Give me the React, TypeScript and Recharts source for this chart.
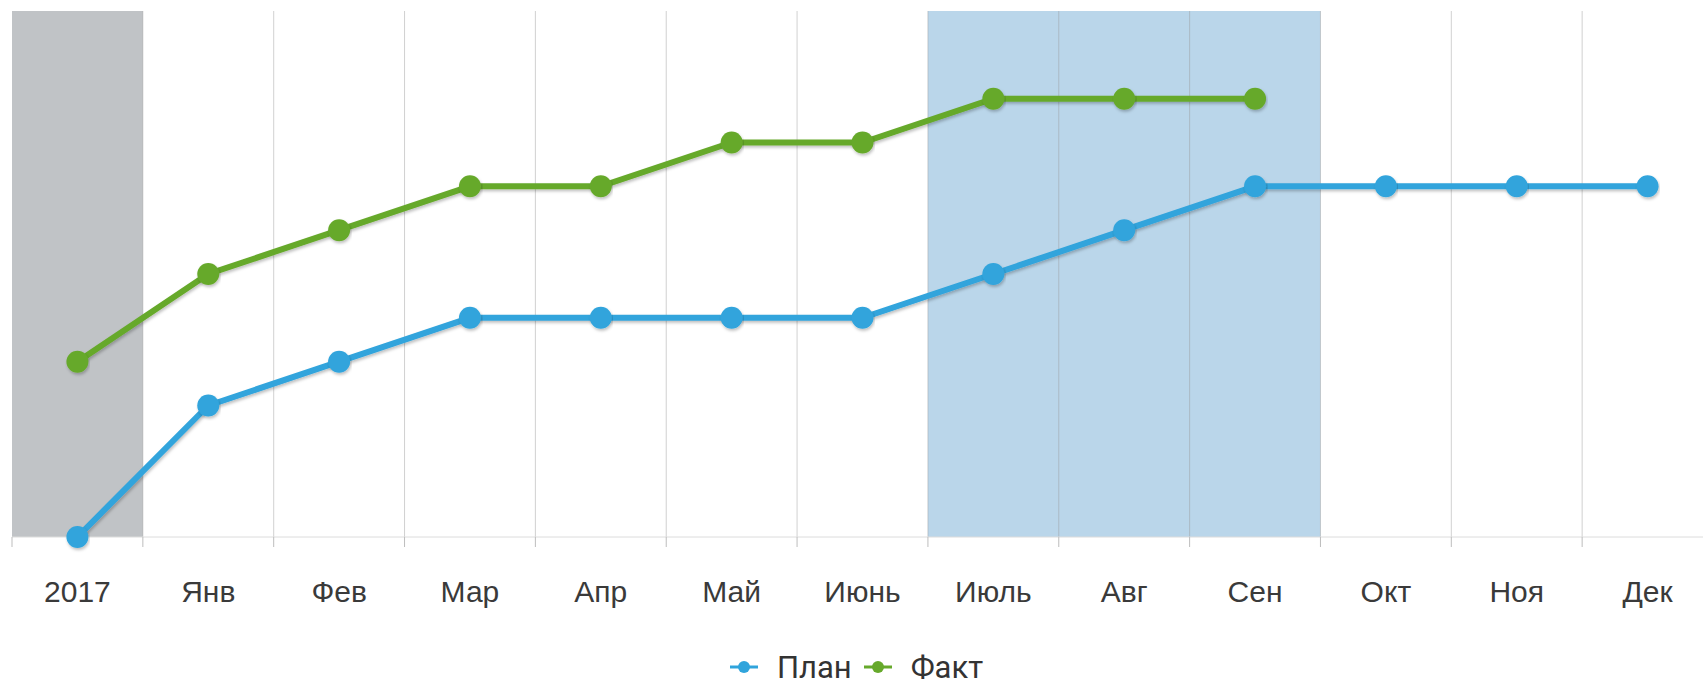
import { LineChart, Line, XAxis, YAxis, CartesianGrid, ReferenceArea, Legend } from "recharts";

const CATEGORIES = ["2017", "Янв", "Фев", "Мар", "Апр", "Май", "Июнь", "Июль", "Авг", "Сен", "Окт", "Ноя", "Дек"];
const PLAN = [0, 3, 4, 5, 5, 5, 5, 6, 7, 8, 8, 8, 8];
const FACT = [4, 6, 7, 8, 8, 9, 9, 10, 10, 10, null, null, null];

const SERIES = [
  { key: "plan", name: "План", color: "#30a4dc" },
  { key: "fact", name: "Факт", color: "#66a92b" },
];

const FONT = "'Liberation Sans', Arial, sans-serif";

const data = CATEGORIES.map((month, i) => ({ month, plan: PLAN[i], fact: FACT[i] }));

function AxisTick(props: any) {
  const { x, y, payload, index, visibleTicksCount } = props;
  const half = payload?.offset ?? 65.4;
  const last = index === visibleTicksCount - 1;
  return (
    <g>
      <line x1={x - half} y1={y} x2={x - half} y2={y + 10} stroke="#bdbdbd" />
      {last && <line x1={x + half} y1={y} x2={x + half} y2={y + 10} stroke="#bdbdbd" />}
      <text x={x} y={y + 65} textAnchor="middle" fill="#3a3a3a" fontSize={30} fontFamily={FONT}>
        {payload.value}
      </text>
    </g>
  );
}

function LegendContent() {
  return (
    <div
      style={{
        display: "flex",
        justifyContent: "center",
        alignItems: "center",
        boxSizing: "border-box",
        height: 40,
        paddingTop: 2,
        fontFamily: "Roboto, sans-serif",
        fontSize: 31,
        lineHeight: 1,
        color: "#333",
      }}
    >
      {SERIES.map((s) => (
        <span key={s.key} style={{ display: "flex", alignItems: "center", marginRight: 12 }}>
          <svg width={28} height={16} style={{ marginRight: 19 }}>
            <line x1={0} y1={8} x2={28} y2={8} stroke={s.color} strokeWidth={3} />
            <circle cx={14} cy={8} r={6} fill={s.color} />
          </svg>
          {s.name}
        </span>
      ))}
    </div>
  );
}

export default function App() {
  return (
    <div
      style={{
        position: "fixed",
        left: 0,
        top: 0,
        width: 1703,
        height: 686,
        overflow: "hidden",
        background: "#fff",
      }}
    >
      <LineChart width={1730} height={686} data={data} margin={{ top: 11, right: 17, left: 12, bottom: 0 }}>
        <defs>
          <filter id="lineShadow" x="-5%" y="-20%" width="110%" height="140%">
            <feDropShadow dx="1" dy="2" stdDeviation="1.5" floodColor="#000" floodOpacity="0.25" />
          </filter>
        </defs>
        <ReferenceArea x1="2017" x2="2017" fill="#c0c3c6" fillOpacity={1} zIndex={-200} />
        <ReferenceArea x1="Июль" x2="Сен" fill="#bad6ea" fillOpacity={1} zIndex={-200} />
        <CartesianGrid
          horizontal={false}
          stroke="#999"
          strokeOpacity={0.45}
          verticalCoordinatesGenerator={({ offset }: any) => {
            const step = offset.width / CATEGORIES.length;
            return CATEGORIES.slice(1).map((_, i) => offset.left + (i + 1) * step);
          }}
        />
        <XAxis
          dataKey="month"
          scale="band"
          height={109}
          tickSize={0}
          tickMargin={0}
          tickLine={false}
          axisLine={{ stroke: "#dcdcdc" }}
          interval={0}
          tick={<AxisTick />}
        />
        <YAxis hide domain={[0, 12]} />
        <Legend verticalAlign="bottom" height={40} content={<LegendContent />} />
        {SERIES.map((s) => (
          <Line
            key={s.key}
            type="linear"
            dataKey={s.key}
            name={s.name}
            stroke={s.color}
            strokeWidth={6}
            filter="url(#lineShadow)"
            dot={{ r: 11, fill: s.color, stroke: s.color, strokeWidth: 0 }}
            activeDot={false}
            isAnimationActive={false}
          />
        ))}
      </LineChart>
    </div>
  );
}
